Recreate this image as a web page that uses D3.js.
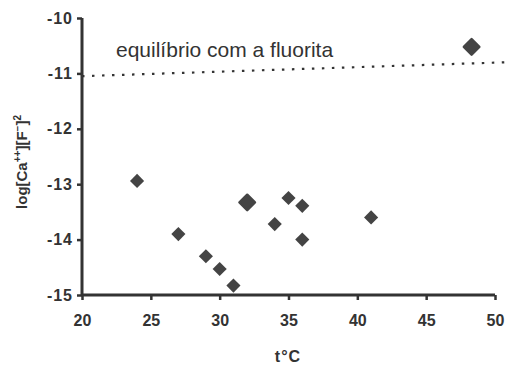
<!DOCTYPE html>
<html>
<head>
<meta charset="utf-8">
<script src="https://cdn.jsdelivr.net/npm/d3@7"></script>
<style>
  body { margin: 0; background: #fff; }
  text { font-family: "Liberation Sans", Arial, sans-serif; fill: #333; }
</style>
</head>
<body>
<script>
var width = 505;
var height = 366;

// temperature (°C) and log[Ca++][F-]^2
var temps = [24, 27, 29, 30, 31, 34, 35, 36, 36, 41];
var logs  = [-12.94, -13.9, -14.3, -14.53, -14.83, -13.72, -13.25, -13.39, -14.0, -13.6];
// the two larger markers
var bigTemps = [32, 48.3];
var bigLogs  = [-13.33, -10.52];

// fluorite equilibrium line (dotted)
var eqTemps = [20, 50.7];
var eqLogs  = [-11.05, -10.8];

var xTicks = [20, 25, 30, 35, 40, 45, 50];
var yTicks = [-10, -11, -12, -13, -14, -15];

var svg = d3.select('body')
  .append('svg')
  .attr('width', width)
  .attr('height', height);

var x = d3.scaleLinear().domain([20, 50]).range([82, 495]);
var y = d3.scaleLinear().domain([-15, -10]).range([295, 18]);

var ink = '#333';
var fmt = function (d) { return String(d); }; // plain hyphen, no decimals

// axes
var xAxis = svg.append('g')
  .attr('transform', 'translate(0,' + y(-15) + ')')
  .call(d3.axisBottom(x).tickValues(xTicks).tickFormat(fmt).tickSize(5).tickPadding(15));
var yAxis = svg.append('g')
  .attr('transform', 'translate(' + x(20) + ',0)')
  .call(d3.axisLeft(y).tickValues(yTicks).tickFormat(fmt).tickSize(5).tickPadding(4));

[xAxis, yAxis].forEach(function (a) {
  a.select('.domain').attr('stroke', ink).attr('stroke-width', 3);
  a.selectAll('.tick line').attr('stroke', ink).attr('stroke-width', 2.5);
  a.selectAll('.tick text')
    .attr('fill', ink)
    .style('font-size', '16px')
    .style('font-weight', 'bold')
    .style('font-family', '"Liberation Sans", Arial, sans-serif');
});
yAxis.selectAll('.tick text').style('letter-spacing', '1px');
xAxis.select('.domain').attr('d', 'M' + x(20) + ',0H' + x(50));
yAxis.select('.domain').attr('d', 'M0,' + y(-10) + 'V' + y(-15));

// dotted equilibrium line
svg.append('path')
  .datum(d3.zip(eqTemps, eqLogs))
  .attr('fill', 'none')
  .attr('stroke', ink)
  .attr('stroke-width', 2.2)
  .attr('stroke-dasharray', '2.5,7.5')
  .attr('d', d3.line().x(function (d) { return x(d[0]); }).y(function (d) { return y(d[1]); }));

svg.append('text')
  .attr('x', 116)
  .attr('y', 57)
  .style('font-size', '21px')
  .text('equilíbrio com a fluorita');

// markers
var diamond = d3.symbol().type(d3.symbolSquare).size(100);
svg.append('g').selectAll('path')
  .data(d3.zip(temps, logs))
  .enter()
  .append('path')
  .attr('d', diamond)
  .attr('fill', '#444')
  .attr('transform', function (d) { return 'translate(' + x(d[0]) + ',' + y(d[1]) + ') rotate(45)'; });

var bigDiamond = d3.symbol().type(d3.symbolSquare).size(120);
svg.append('g').selectAll('path')
  .data(d3.zip(bigTemps, bigLogs))
  .enter()
  .append('path')
  .attr('d', bigDiamond)
  .attr('fill', '#444')
  .attr('stroke', '#444')
  .attr('stroke-width', 2.5)
  .attr('stroke-linejoin', 'round')
  .attr('transform', function (d) { return 'translate(' + x(d[0]) + ',' + y(d[1]) + ') rotate(45)'; });

// axis titles
svg.append('text')
  .attr('x', 288)
  .attr('y', 362)
  .attr('text-anchor', 'middle')
  .style('font-size', '16px')
  .style('font-weight', 'bold')
  .style('letter-spacing', '1px')
  .text('t°C');

var yTitle = svg.append('text')
  .attr('transform', 'translate(27,162) rotate(-90)')
  .attr('text-anchor', 'middle')
  .style('font-size', '15px')
  .style('font-weight', 'bold');
yTitle.append('tspan').text('log[Ca');
yTitle.append('tspan').attr('dy', -6).style('font-size', '10px').text('++');
yTitle.append('tspan').attr('dy', 6).text('][F');
yTitle.append('tspan').attr('dy', -6).style('font-size', '10px').text('−');
yTitle.append('tspan').attr('dy', 6).text(']');
yTitle.append('tspan').attr('dy', -6).style('font-size', '10px').text('2');
</script>
</body>
</html>
